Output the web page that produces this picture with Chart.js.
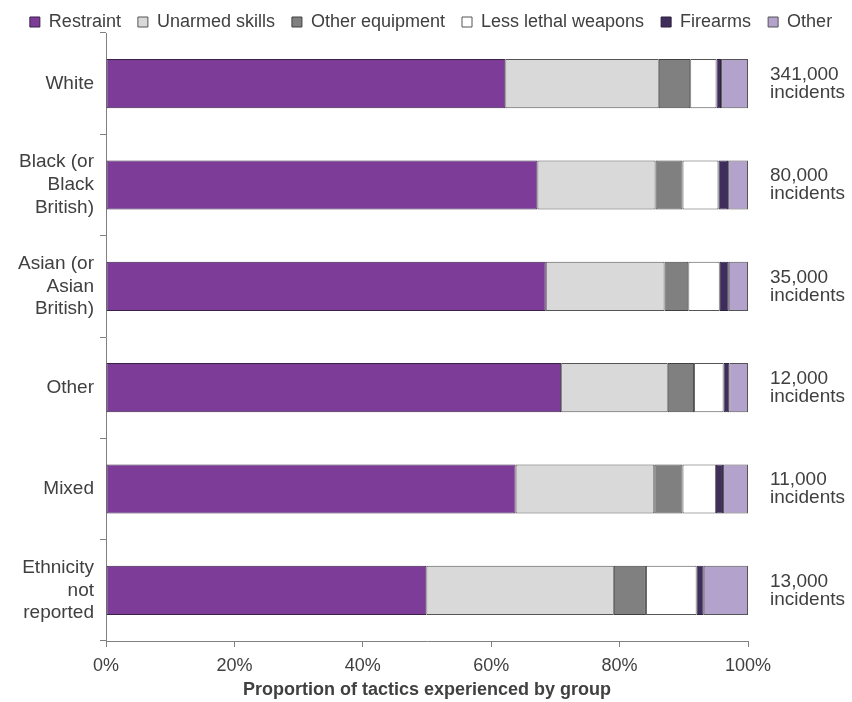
<!DOCTYPE html>
<html>
<head>
<meta charset="utf-8">
<script src="https://cdn.jsdelivr.net/npm/chart.js@4/dist/chart.umd.min.js"></script>
<style>
  html, body { margin: 0; padding: 0; background: #fff; }
  #wrap { width: 852px; height: 702px; }
</style>
</head>
<body>
<div id="wrap"><canvas id="chart" width="852" height="702"></canvas></div>
<script>
// Groups (y categories)
const groups = [
    'White',
    ['Black (or', 'Black', 'British)'],
    ['Asian (or', 'Asian', 'British)'],
    'Other',
    'Mixed',
    ['Ethnicity', 'not', 'reported']
];

// Incident counts shown to the right of each bar
const incidents = ['341,000', '80,000', '35,000', '12,000', '11,000', '13,000'];

// Share of tactics per group (%)
const restraint    = [62.2, 67.2, 68.5, 70.9, 63.8, 49.9];
const unarmed      = [23.9, 18.4, 18.5, 16.6, 21.6, 29.2];
const otherEquip   = [4.9, 4.2, 3.7, 4.1, 4.4, 5.0];
const lessLethal   = [4.1, 5.6, 4.9, 4.6, 5.2, 7.9];
const firearms     = [0.7, 1.5, 1.4, 0.9, 1.1, 1.1];
const otherTactics = [4.2, 3.1, 3.0, 2.9, 3.9, 6.9];

const xTicks = [0, 20, 40, 60, 80, 100];

const FONT = "'Liberation Sans', Arial, sans-serif";
const TEXT = '#404040';
const LEGEND_PAD = 17;

const makeSet = (label, data, bg, border) => ({
    label: label,
    data: data,
    backgroundColor: bg,
    borderColor: border,
    borderWidth: 1,
    borderSkipped: false,
    barPercentage: 0.485,
    categoryPercentage: 1
});

// legend padding is wide horizontally, so trim its box height and nudge it up
const legendHeight = {
    id: 'legendHeight',
    afterInit(chart) {
        const legend = chart.legend;
        const fit = legend.fit.bind(legend);
        const drawItems = legend._draw.bind(legend);
        legend.fit = function () {
            fit();
            this.height = 33;
        };
        legend._draw = function () {
            this.ctx.save();
            this.ctx.translate(5, 21 - (LEGEND_PAD + 8));
            drawItems();
            this.ctx.restore();
        };
    }
};

// multi-line labels make Chart.js reserve space above the plot; drop it
const noLabelPadding = (scale) => {
    scale.paddingTop = 0;
    scale.paddingBottom = 0;
};

new Chart(document.getElementById('chart'), {
    type: 'bar',
    data: {
        labels: groups,
        datasets: [
            makeSet('Restraint', restraint, '#7D3C98', '#3a2148'),
            makeSet('Unarmed skills', unarmed, '#D9D9D9', '#555555'),
            makeSet('Other equipment', otherEquip, '#808080', '#404040'),
            makeSet('Less lethal weapons', lessLethal, '#FFFFFF', '#555555'),
            makeSet('Firearms', firearms, '#3F2E5C', '#2a1f3d'),
            makeSet('Other', otherTactics, '#B3A2CC', '#555555')
        ]
    },
    options: {
        indexAxis: 'y',
        responsive: false,
        animation: false,
        devicePixelRatio: 1,
        layout: { padding: 0 },
        plugins: {
            legend: {
                position: 'top',
                align: 'center',
                labels: {
                    boxWidth: 10,
                    boxHeight: 10,
                    padding: LEGEND_PAD,
                    color: TEXT,
                    font: { family: FONT, size: 18 }
                }
            },
            tooltip: { enabled: false }
        },
        scales: {
            x: {
                stacked: true,
                min: 0,
                max: 100,
                afterBuildTicks: (scale) => {
                    scale.ticks = xTicks.map(v => ({ value: v }));
                },
                afterFit: (scale) => { scale.height = 61; },
                grid: {
                    drawOnChartArea: false,
                    tickLength: 6,
                    color: '#808080'
                },
                border: { color: '#808080' },
                ticks: {
                    padding: 8,
                    color: TEXT,
                    font: { family: FONT, size: 18 },
                    callback: (v) => v + '%'
                },
                title: {
                    display: true,
                    text: 'Proportion of tactics experienced by group',
                    color: TEXT,
                    padding: { top: 0, bottom: 1 },
                    font: { family: FONT, size: 18, weight: 'bold' }
                }
            },
            y: {
                stacked: true,
                afterFit: (scale) => {
                    scale.width = 106;
                    noLabelPadding(scale);
                },
                grid: {
                    offset: true,
                    drawOnChartArea: false,
                    tickLength: 6,
                    color: '#808080'
                },
                border: { color: '#808080' },
                ticks: {
                    padding: 6,
                    color: TEXT,
                    font: { family: FONT, size: 19, lineHeight: 1.2 }
                }
            },
            // right-hand axis carrying the incident counts
            y2: {
                type: 'category',
                position: 'right',
                labels: incidents.map(n => [n, 'incidents']),
                afterFit: (scale) => {
                    scale.width = 104;
                    noLabelPadding(scale);
                },
                grid: { display: false, drawTicks: false },
                border: { display: false },
                ticks: {
                    padding: 22,
                    color: TEXT,
                    font: { family: FONT, size: 19, lineHeight: 0.95 }
                }
            }
        }
    },
    plugins: [legendHeight]
});
</script>
</body>
</html>
